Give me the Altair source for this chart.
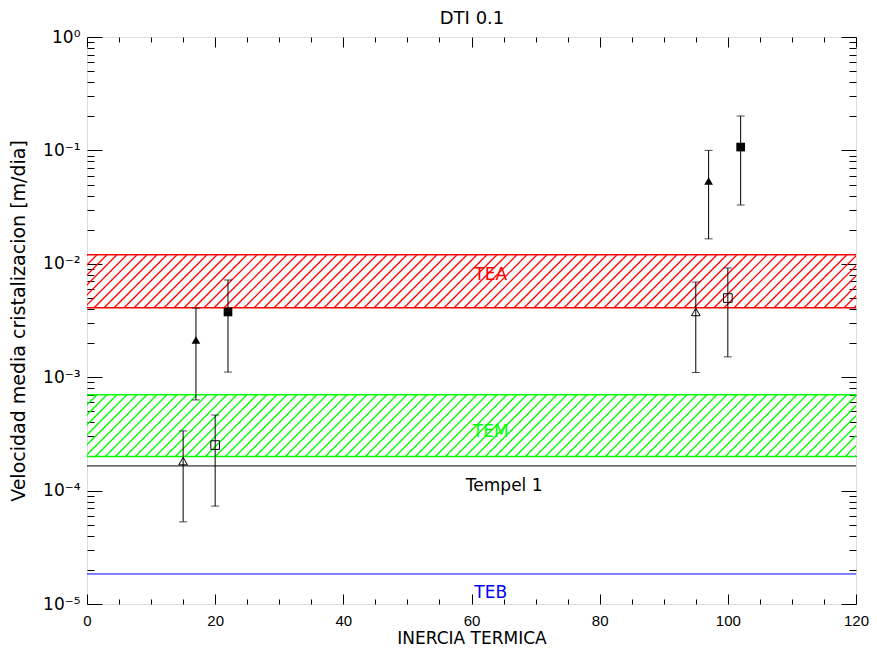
import altair as alt
import numpy as np
import pandas as pd

W, H = 769, 567
PAD = {"left": 79, "top": 29, "right": 13, "bottom": 44}
X_DOMAIN = [0, 120]
Y_DOMAIN = [1e-5, 1.0]
FONT = "DejaVu Sans"
NUMFONT = "Liberation Sans"

# ---- data ----
ot_x = [15, 95]
ot_y = [1.82e-4, 3.76e-3]
ot_lo = [5.3e-5, 1.1e-3]
ot_hi = [3.36e-4, 6.9e-3]

ft_x = [17, 97]
ft_y = [2.13e-3, 0.0537]
ft_lo = [6.3e-4, 0.0166]
ft_hi = [4.07e-3, 0.100]

os_x = [20, 100]
os_y = [2.52e-4, 4.99e-3]
os_lo = [7.3e-5, 1.51e-3]
os_hi = [4.64e-4, 9.2e-3]

fs_x = [22, 102]
fs_y = [3.76e-3, 0.107]
fs_lo = [1.11e-3, 0.033]
fs_hi = [7.2e-3, 0.201]

band_names = ["TEA", "TEM"]
band_lo = [4.1e-3, 2.0e-4]
band_hi = [1.2e-2, 7.0e-4]
band_colors = ["#ff0000", "#00ff00"]

line_names = ["Tempel 1", "TEB"]
line_vals = [1.65e-4, 1.84e-5]
line_colors = ["#000000", "#0000ff"]

label_text = ["TEA", "TEM", "Tempel 1", "TEB"]
label_x = [63, 63, 65.1, 63]
label_y = [7.96e-3, 3.29e-4, 1.1e-4, 1.25e-5]
label_colors = ["#ff0000", "#00ff00", "#000000", "#0000ff"]

x_major = [0, 20, 40, 60, 80, 100, 120]
x_minor = [v for v in range(0, 121, 5) if v % 20 != 0]
y_major = [1e-5, 1e-4, 1e-3, 1e-2, 1e-1, 1.0]
y_minor = [k * 10.0 ** d for d in range(-5, 0) for k in range(2, 10)]

# ---- tables ----
pts = pd.DataFrame({
    "x": ot_x + ft_x + os_x + fs_x,
    "y": ot_y + ft_y + os_y + fs_y,
    "lo": ot_lo + ft_lo + os_lo + fs_lo,
    "hi": ot_hi + ft_hi + os_hi + fs_hi,
    "kind": ["ot"] * 2 + ["ft"] * 2 + ["os"] * 2 + ["fs"] * 2,
})

px_x = W / (X_DOMAIN[1] - X_DOMAIN[0])
px_dec = H / (np.log10(Y_DOMAIN[1]) - np.log10(Y_DOMAIN[0]))


def hatch_table(lo, hi):
    h_px = (np.log10(hi) - np.log10(lo)) * px_dec
    dx = h_px / px_x
    step = 10 / px_x
    starts = np.arange(X_DOMAIN[0] - dx, X_DOMAIN[1], step)
    rows = []
    for i, s in enumerate(starts):
        rows.append({"id": i, "hx": s, "hy": lo})
        rows.append({"id": i, "hx": s + dx, "hy": hi})
    return pd.DataFrame(rows)


xs = alt.Scale(domain=X_DOMAIN, nice=False, zero=False)
ys = alt.Scale(type="log", domain=Y_DOMAIN, nice=False)


def tick_axis(orient, offset, values, size, **kw):
    return alt.Axis(orient=orient, offset=offset, values=values, tickSize=size,
                    labels=False, domain=False, grid=False,
                    tickColor="black", tickWidth=1, **kw)


sup_expr = ("['10\u2070','10\u207b\u00b9','10\u207b\u00b2','10\u207b\u00b3',"
            "'10\u207b\u2074','10\u207b\u2075'][-round(log(datum.value)/LN10)]")

x_lab_axis = alt.Axis(orient="bottom", values=x_major, ticks=False, tickSize=0, domain=False,
                      grid=False, labelFont=NUMFONT, labelFontSize=15, labelColor="black",
                      labelPadding=9, labelFlush=False, labelOverlap=False,
                      title="INERCIA TERMICA", titleFont=FONT, titleFontSize=17,
                      titleFontWeight="normal", titleColor="black",
                      titleX=W / 2, titleY=34, titleBaseline="middle", titleAlign="center")
y_lab_axis = alt.Axis(orient="left", values=y_major, ticks=False, tickSize=0, domain=False,
                      grid=False, labelFont=FONT, labelFontSize=17, labelColor="black",
                      labelPadding=7, labelFlush=False, labelOverlap=False, labelExpr=sup_expr,
                      title="Velocidad media cristalizacion [m/dia]", titleFont=FONT,
                      titleFontSize=19, titleFontWeight="normal", titleColor="black",
                      titleX=-69, titleY=H / 2, titleAngle=-90, titleBaseline="middle",
                      titleAlign="center")
# top frame ticks (major) also host the chart title
x_top_major = tick_axis("bottom", -H, x_major, 10,
                        title="DTI 0.1", titleFont=FONT, titleFontSize=18,
                        titleFontWeight="normal", titleColor="black",
                        titleX=W / 2, titleY=-19, titleBaseline="middle", titleAlign="center")

layers = []
for i, (lo, hi, col) in enumerate(zip(band_lo, band_hi, band_colors)):
    ax_x = x_lab_axis if i == 0 else tick_axis("bottom", -H, x_minor, 5, title=None)
    ax_y = y_lab_axis if i == 0 else tick_axis("left", -W, y_minor, 7, title=None)
    layers.append(
        alt.Chart(hatch_table(lo, hi)).mark_line(clip=True, strokeWidth=1.3, color=col,
                                                 opacity=1).encode(
            x=alt.X("hx:Q", scale=xs, axis=ax_x),
            y=alt.Y("hy:Q", scale=ys, axis=ax_y),
            detail="id:N",
        )
    )
    layers.append(
        alt.Chart(pd.DataFrame({"ey": [lo, hi]})).mark_rule(strokeWidth=1.5, color=col).encode(
            y=alt.Y("ey:Q", scale=ys, axis=None),
        )
    )

for v, col in zip(line_vals, line_colors):
    layers.append(
        alt.Chart(pd.DataFrame({"ly": [v]})).mark_rule(strokeWidth=1, color=col).encode(
            y=alt.Y("ly:Q", scale=ys, axis=None),
        )
    )

layers.append(alt.Chart(pts).mark_rule(color="black", strokeWidth=1).encode(
    x=alt.X("x:Q", scale=xs, axis=tick_axis("top", -H, x_major, 10, title=None)),
    y=alt.Y("lo:Q", scale=ys, axis=tick_axis("right", -W, y_major, 15, title=None)),
    y2="hi:Q",
))
layers.append(alt.Chart(pts).mark_tick(color="black", orient="horizontal", size=8, thickness=1).encode(
    x=alt.X("x:Q", scale=xs, axis=tick_axis("top", -H, x_minor, 5, title=None)),
    y=alt.Y("lo:Q", scale=ys, axis=tick_axis("right", -W, y_minor, 7, title=None)),
))
layers.append(alt.Chart(pts).mark_tick(color="black", orient="horizontal", size=8, thickness=1).encode(
    x=alt.X("x:Q", scale=xs, axis=x_top_major),
    y=alt.Y("hi:Q", scale=ys, axis=tick_axis("left", -W, y_major, 15, title=None)),
))

shape_of = {"ot": ("triangle-up", False), "ft": ("triangle-up", True),
            "os": ("square", False), "fs": ("square", True)}
for k, (shp, fil) in shape_of.items():
    mk = alt.Chart(pts).transform_filter(alt.datum.kind == k)
    if fil:
        mk = mk.mark_point(shape=shp, filled=True, size=75, color="black", opacity=1)
    else:
        mk = mk.mark_point(shape=shp, filled=False, size=75, color="black", strokeWidth=1, opacity=1)
    layers.append(mk.encode(x=alt.X("x:Q", scale=xs, axis=None),
                            y=alt.Y("y:Q", scale=ys, axis=None)))

labels = pd.DataFrame({"t": label_text, "tx": label_x, "ty": label_y, "c": label_colors})
layers.append(alt.Chart(labels).mark_text(font=FONT, fontSize=17, baseline="middle", align="center").encode(
    x=alt.X("tx:Q", scale=xs, axis=None),
    y=alt.Y("ty:Q", scale=ys, axis=None),
    text="t:N",
    color=alt.Color("c:N", scale=None),
))

chart = alt.layer(*layers).resolve_axis(x="independent", y="independent").properties(
    width=W, height=H,
    autosize=alt.AutoSizeParams(type="none"),
    padding=PAD,
).configure_view(stroke="black", strokeWidth=1).configure(background="white")

chart.save("out.html", embed_options={"renderer": "svg", "actions": False})
